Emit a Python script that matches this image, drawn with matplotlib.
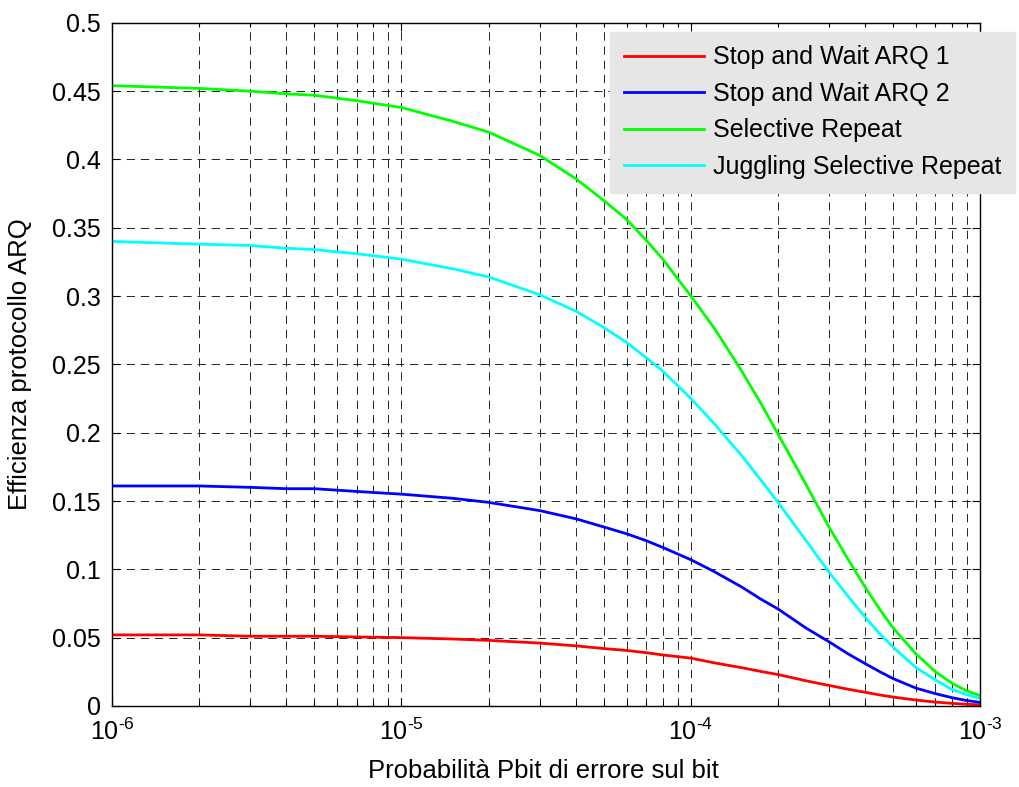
import math

import matplotlib
matplotlib.use("Agg")
import matplotlib.pyplot as plt
from matplotlib.ticker import FixedLocator, FuncFormatter, LogLocator, NullFormatter

plt.rcParams["font.family"] = ["Liberation Sans", "DejaVu Sans"]
plt.rcParams["mathtext.fontset"] = "custom"
plt.rcParams["mathtext.rm"] = "Liberation Sans"
plt.rcParams["mathtext.it"] = "Liberation Sans"

# bit error probability (x) and efficiency values
p_bit = [1e-6, 2e-6, 3e-6, 4e-6, 5e-6, 7e-6, 1e-5, 1.5e-5, 2e-5, 3e-5, 4e-5,
         5e-5, 6e-5, 7e-5, 8e-5, 1e-4, 1.2e-4, 1.5e-4, 1.75e-4, 2e-4, 2.5e-4,
         3e-4, 3.5e-4, 4e-4, 4.5e-4, 5e-4, 6e-4, 7e-4, 8e-4, 9e-4, 1e-3]
sw_arq1 = [0.052, 0.052, 0.051, 0.051, 0.051, 0.0505, 0.050, 0.049, 0.048, 0.046, 0.044,
           0.042, 0.0406, 0.039, 0.0373, 0.035, 0.0316, 0.028, 0.0252, 0.023, 0.0184,
           0.015, 0.0122, 0.010, 0.008, 0.0065, 0.0043, 0.0028, 0.0019, 0.0012, 0.0008]
sw_arq2 = [0.161, 0.161, 0.160, 0.159, 0.159, 0.157, 0.155, 0.152, 0.149, 0.143, 0.137,
           0.131, 0.126, 0.121, 0.116, 0.107, 0.0985, 0.087, 0.078, 0.071, 0.057,
           0.047, 0.038, 0.031, 0.025, 0.020, 0.013, 0.009, 0.006, 0.0039, 0.0026]
sel_rep = [0.454, 0.452, 0.450, 0.448, 0.447, 0.443, 0.438, 0.428, 0.420, 0.403, 0.386,
           0.370, 0.356, 0.341, 0.327, 0.300, 0.277, 0.245, 0.221, 0.199, 0.162,
           0.131, 0.107, 0.087, 0.0705, 0.057, 0.038, 0.025, 0.0165, 0.0109, 0.0075]
jug_rep = [0.340, 0.338, 0.337, 0.335, 0.334, 0.331, 0.327, 0.320, 0.314, 0.301, 0.289,
           0.277, 0.266, 0.255, 0.245, 0.225, 0.207, 0.183, 0.165, 0.149, 0.121,
           0.098, 0.080, 0.065, 0.0527, 0.043, 0.028, 0.019, 0.012, 0.0082, 0.0054]

labels = ["Stop and Wait ARQ 1", "Stop and Wait ARQ 2",
          "Selective Repeat", "Juggling Selective Repeat"]
colors = ["#ff0000", "#0000ff", "#00ff00", "#00ffff"]
y_ticks = [0, 0.05, 0.1, 0.15, 0.2, 0.25, 0.3, 0.35, 0.4, 0.45, 0.5]


def decade_label(value, _pos):
    # MATLAB-style exponent with a plain hyphen instead of a minus sign
    exp = round(math.log10(value))
    sign = "\u2010" if exp < 0 else ""
    return r"$10^{%s%d}$" % (sign, abs(exp))


fig = plt.figure(figsize=(10.19, 7.87), dpi=100)
ax = fig.add_axes([0.110, 0.103, 0.852, 0.868])

for series, label, color in zip([sw_arq1, sw_arq2, sel_rep, jug_rep], labels, colors):
    ax.plot(p_bit, series, color=color, linewidth=2.0, label=label)

ax.set_xscale("log")
ax.set_xlim(1e-6, 1e-3)
ax.set_ylim(0, 0.5)
ax.yaxis.set_major_locator(FixedLocator(y_ticks))
ax.yaxis.set_major_formatter(FuncFormatter(lambda v, _: f"{v:g}"))
ax.xaxis.set_major_locator(LogLocator(base=10, numticks=10))
ax.xaxis.set_minor_locator(LogLocator(base=10, subs=range(2, 10), numticks=50))
ax.xaxis.set_minor_formatter(NullFormatter())
ax.xaxis.set_major_formatter(FuncFormatter(decade_label))

grid_style = dict(color="black", linestyle=(0, (10, 7)), linewidth=0.6)
ax.grid(True, which="major", axis="both", **grid_style)
ax.grid(True, which="minor", axis="x", **grid_style)

ax.tick_params(which="both", direction="in", top=True, right=True)
ax.tick_params(which="major", length=6, width=0.8, labelsize=18)
ax.tick_params(which="minor", length=3, width=0.8)
ax.tick_params(axis="x", pad=9)
ax.tick_params(axis="y", pad=8)
for spine in ax.spines.values():
    spine.set_linewidth(1.0)

ax.set_xlabel("Probabilità Pbit di errore sul bit", fontsize=18.5)
ax.set_ylabel("Efficienza protocollo ARQ", fontsize=18.5)
ax.xaxis.set_label_coords(0.497, -0.078)
ax.yaxis.set_label_coords(-0.092, 0.5)

leg = ax.legend(loc="upper left", bbox_to_anchor=(0.574, 0.987), borderaxespad=0,
                fontsize=18, frameon=True, fancybox=False, handlelength=3.2,
                handletextpad=0.35, labelspacing=0.5, borderpad=0.55)
leg.get_frame().set_facecolor("#e6e6e6")
leg.get_frame().set_edgecolor("#e6e6e6")
leg.get_frame().set_alpha(1.0)

fig.savefig("out.png", dpi=100)
